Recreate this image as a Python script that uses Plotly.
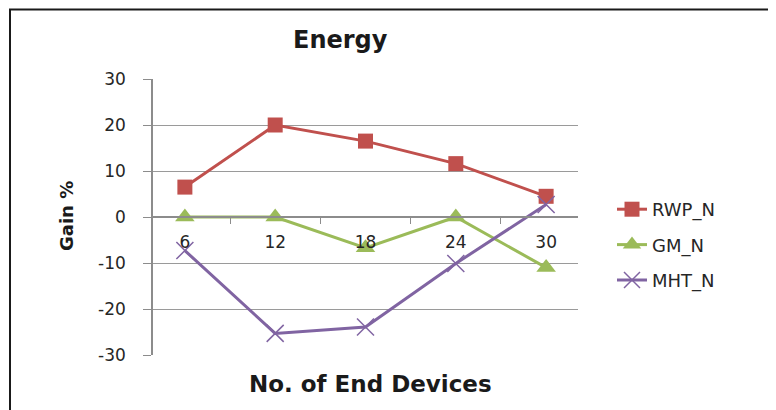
import plotly.graph_objects as go

categories = ["6", "12", "18", "24", "30"]
rwp_n = [6.5, 20.0, 16.5, 11.6, 4.5]
gm_n = [0.0, 0.0, -6.7, 0.0, -11.0]
mht_n = [-7.3, -25.3, -23.9, -10.1, 2.7]
y_ticks = [-30, -20, -10, 0, 10, 20, 30]
y_tick_labels = ["-30", "-20", "-10", "0", "10", "20", "30"]

FONT = "DejaVu Sans"
W, H = 776, 410
OFF = 8  # page body margin offset
L, R, T, B = 153 - OFF, 578 - OFF, 79 - OFF, 355 - OFF
pw, ph = R - L, B - T


def px(x):
    return (x - OFF - L) / pw


def py(y):
    return (B - (y - OFF)) / ph


fig = go.Figure()
fig.add_trace(go.Scatter(
    x=categories, y=rwp_n, name="RWP_N", mode="lines+markers", legendgroup="a",
    line=dict(color="#C0504D", width=3),
    marker=dict(symbol="square", size=15, color="#C0504D")))
fig.add_trace(go.Scatter(
    x=categories, y=gm_n, name="GM_N", mode="lines+markers", legendgroup="b",
    line=dict(color="#9BBB59", width=3),
    marker=dict(symbol="triangle-up", size=17, color="#9BBB59")))
fig.add_trace(go.Scatter(
    x=categories, y=mht_n, name="MHT_N", mode="lines+markers", legendgroup="c",
    line=dict(color="#8064A2", width=3),
    marker=dict(symbol="x-thin", size=17, line=dict(color="#8064A2", width=1.5))))

fig.update_layout(
    width=W, height=H,
    margin=dict(l=L, r=W - R, t=T, b=H - B, autoexpand=False),
    paper_bgcolor="white", plot_bgcolor="white",
    font=dict(family=FONT, color="#262626"),
    showlegend=True,
    legend=dict(x=px(612), y=py(245), xanchor="left", yanchor="middle",
                font=dict(family=FONT, size=18, color="#262626"),
                tracegroupgap=9, bgcolor="rgba(0,0,0,0)"),
    xaxis=dict(type="category", anchor="free", position=0.5, automargin=False,
               showgrid=False, showline=True, linecolor="#8c8c8c", linewidth=1.5,
               ticks="outside", ticklen=6, tickcolor="#8c8c8c", tickson="boundaries",
               tickfont=dict(family=FONT, size=17, color="#262626"),
               ticklabelstandoff=10, zeroline=False),
    yaxis=dict(range=[-30, 30], tickvals=y_ticks, ticktext=y_tick_labels,
               automargin=False, showgrid=True, gridcolor="#9a9a9a",
               gridwidth=1, zeroline=False, showline=True, linecolor="#8c8c8c",
               linewidth=1.5, ticks="outside", ticklen=8, tickcolor="#8c8c8c",
               tickfont=dict(family=FONT, size=17, color="#262626"),
               ticklabelstandoff=14),
    shapes=[dict(type="rect", xref="paper", yref="paper",
                 x0=px(10), x1=px(800), y0=py(430), y1=py(9.5),
                 line=dict(color="#1a1a1a", width=2), fillcolor="rgba(0,0,0,0)",
                 layer="below")],
    annotations=[
        dict(text="<b>Energy</b>", xref="paper", yref="paper", x=px(340), y=py(40),
             xanchor="center", yanchor="middle", showarrow=False,
             font=dict(family=FONT, size=24, color="#1a1a1a")),
        dict(text="<b>Gain %</b>", xref="paper", yref="paper", x=px(66), y=py(216),
             xanchor="center", yanchor="middle", showarrow=False, textangle=-90,
             font=dict(family=FONT, size=18, color="#1a1a1a")),
        dict(text="<b>No. of End Devices</b>", xref="paper", yref="paper", x=px(370), y=py(384),
             xanchor="center", yanchor="middle", showarrow=False,
             font=dict(family=FONT, size=23, color="#1a1a1a")),
    ],
)

fig.write_html("out.html")
